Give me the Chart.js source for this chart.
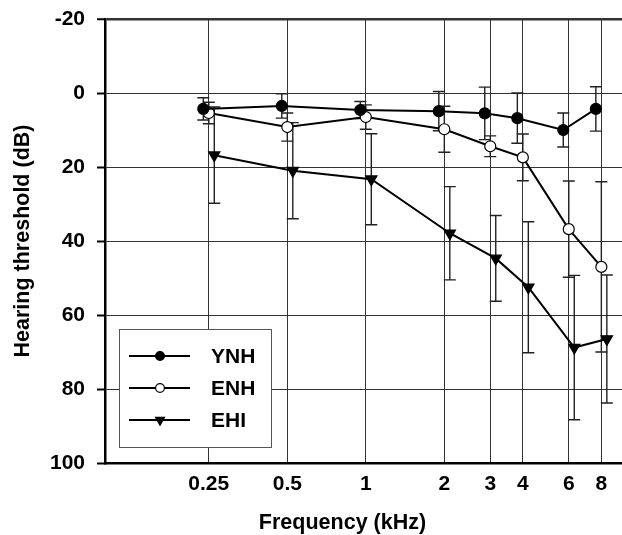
<!DOCTYPE html>
<html>
<head>
<meta charset="utf-8">
<script src="https://cdn.jsdelivr.net/npm/chart.js@4.4.1/dist/chart.umd.min.js"></script>
<style>
  html, body { margin: 0; padding: 0; background: #fff; overflow: hidden; }
  canvas { display: block; }
</style>
</head>
<body>
<canvas id="audiogram" width="622" height="535"></canvas>
<script>
// frequencies in kHz
const freqs = [0.25, 0.5, 1, 2, 3, 4, 6, 8];
const yTicks = [-20, 0, 20, 40, 60, 80, 100];

// mean hearing threshold (dB) and standard deviation per group
const ynhMean = [4.3, 3.5, 4.6, 4.9, 5.5, 6.8, 10.0, 4.3];
const ynhSD = [3.0, 3.3, 2.3, 5.3, 7.1, 6.8, 4.6, 6.0];
const enhMean = [5.4, 9.2, 6.5, 9.8, 14.4, 17.4, 36.8, 47.0];
const enhSD = [2.9, 3.8, 3.3, 6.2, 2.8, 6.3, 13.0, 23.0];
const ehiMean = [16.8, 21.0, 23.3, 37.9, 44.7, 52.5, 68.8, 66.5];
const ehiSD = [13.0, 13.0, 12.3, 12.6, 11.6, 17.7, 19.5, 17.3];

const FONT = '"Liberation Sans", Arial, sans-serif';

// small horizontal dodge (in octaves) so error bars don't overlap
function makeSet(label, means, sds, dodge, style) {
    return Object.assign({
        label: label,
        data: freqs.map((f, i) => ({ x: f * Math.pow(2, dodge), y: means[i], sd: sds[i] })),
        borderColor: '#000',
        borderWidth: 2,
        pointBorderColor: '#000',
        pointBorderWidth: 1.2,
        tension: 0,
        fill: false,
    }, style);
}

const errorBars = {
    id: 'errorBars',
    beforeDatasetsDraw(chart) {
        const ctx = chart.ctx;
        const ys = chart.scales.y;
        ctx.save();
        ctx.strokeStyle = '#222';
        ctx.lineWidth = 1.4;
        chart.data.datasets.forEach((ds, di) => {
            const meta = chart.getDatasetMeta(di);
            meta.data.forEach((pt, i) => {
                const d = ds.data[i];
                const top = ys.getPixelForValue(d.y - d.sd);
                const bot = ys.getPixelForValue(d.y + d.sd);
                ctx.beginPath();
                ctx.moveTo(pt.x, top); ctx.lineTo(pt.x, bot);
                ctx.moveTo(pt.x - 6, top); ctx.lineTo(pt.x + 6, top);
                ctx.moveTo(pt.x - 6, bot); ctx.lineTo(pt.x + 6, bot);
                ctx.stroke();
            });
        });
        ctx.restore();
    }
};

const boxLegend = {
    id: 'boxLegend',
    afterDraw(chart) {
        const ctx = chart.ctx;
        const a = chart.chartArea;
        const bx = a.left + 14, by = a.bottom - 134, bw = 152, bh = 118;
        ctx.save();
        ctx.fillStyle = '#fff';
        ctx.fillRect(bx, by, bw, bh);
        ctx.strokeStyle = '#555';
        ctx.lineWidth = 1;
        ctx.strokeRect(bx + 0.5, by + 0.5, bw, bh);
        chart.data.datasets.forEach((ds, i) => {
            const y = by + 27 + i * 32;
            ctx.strokeStyle = '#000';
            ctx.lineWidth = 2;
            ctx.beginPath();
            ctx.moveTo(bx + 10, y); ctx.lineTo(bx + 71, y);
            ctx.stroke();
            ctx.fillStyle = ds.pointBackgroundColor;
            ctx.lineWidth = 1.2;
            Chart.helpers.drawPoint(ctx, {
                pointStyle: ds.pointStyle,
                radius: ds.pointRadius * 0.8,
                rotation: ds.pointRotation || 0,
                borderWidth: 1.2
            }, bx + 41, y);
            ctx.fillStyle = '#000';
            ctx.font = 'bold 21px ' + FONT;
            ctx.textAlign = 'left';
            ctx.textBaseline = 'middle';
            ctx.fillText(ds.label, bx + 92, y + 1);
        });
        ctx.restore();
    }
};

const axisTitles = {
    id: 'axisTitles',
    afterDraw(chart) {
        const ctx = chart.ctx;
        const a = chart.chartArea;
        ctx.save();
        ctx.fillStyle = '#000';
        ctx.font = 'bold 21.5px ' + FONT;
        ctx.textAlign = 'center';
        ctx.textBaseline = 'middle';
        ctx.fillText('Frequency (kHz)', (a.left + a.right) / 2 - 21, 523);
        ctx.translate(23, (a.top + a.bottom) / 2);
        ctx.rotate(-Math.PI / 2);
        ctx.fillText('Hearing threshold (dB)', 0, 0);
        ctx.restore();
    }
};

const datasets = [
    makeSet('YNH', ynhMean, ynhSD, -0.07, {
        pointStyle: 'circle', pointRadius: 5.5, pointBackgroundColor: '#000'
    }),
    makeSet('ENH', enhMean, enhSD, 0, {
        pointStyle: 'circle', pointRadius: 5.5, pointBackgroundColor: '#fff'
    }),
    makeSet('EHI', ehiMean, ehiSD, 0.07, {
        pointStyle: 'triangle', pointRadius: 6.5, pointRotation: 180,
        pointBackgroundColor: '#000'
    }),
];

new Chart(document.getElementById('audiogram').getContext('2d'), {
    type: 'line',
    data: { datasets: datasets },
    plugins: [errorBars, boxLegend, axisTitles],
    options: {
        responsive: false,
        animation: false,
        layout: { padding: { top: 19, right: 0, left: 0, bottom: 0 }, autoPadding: false },
        plugins: { legend: { display: false }, tooltip: { enabled: false } },
        scales: {
            x: {
                type: 'logarithmic',
                min: 0.1,
                max: 9.6,
                afterBuildTicks(axis) { axis.ticks = freqs.map(v => ({ value: v })); },
                afterFit(axis) { axis.height = 72; axis.paddingLeft = 0; axis.paddingRight = 0; },
                ticks: {
                    autoSkip: false,
                    maxRotation: 0,
                    padding: 9,
                    color: '#000',
                    font: { family: FONT, size: 21, weight: 'bold' },
                    callback: v => String(v)
                },
                grid: { color: '#333', lineWidth: 1, drawTicks: false },
                border: { display: true, color: '#000', width: 2.5 }
            },
            y: {
                reverse: true,
                min: -20,
                max: 100,
                afterBuildTicks(axis) { axis.ticks = yTicks.map(v => ({ value: v })); },
                afterFit(axis) { axis.width = 105; axis.paddingTop = 0; axis.paddingBottom = 0; },
                ticks: {
                    padding: 12,
                    color: '#000',
                    font: { family: FONT, size: 21, weight: 'bold' }
                },
                grid: {
                    color: '#333',
                    lineWidth: c => (c.tick && c.tick.value === -20 ? 2.5 : 1),
                    tickLength: 8,
                    tickColor: '#000',
                    tickWidth: 2
                },
                border: { display: true, color: '#000', width: 2.5 }
            }
        }
    }
});
</script>
</body>
</html>
